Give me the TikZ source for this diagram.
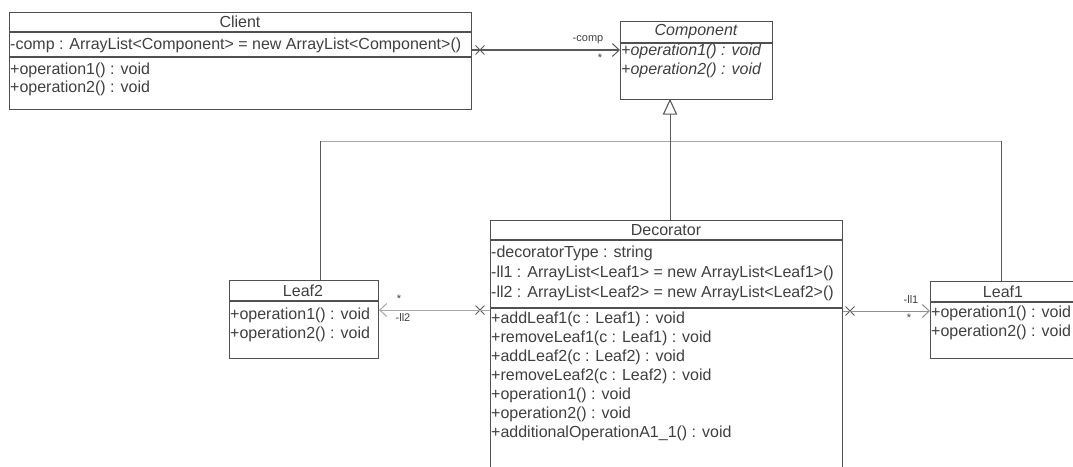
\documentclass[tikz,border=0pt]{standalone}
\usepackage{fontspec}
\setmainfont{Liberation Sans}
\usetikzlibrary{arrows.meta,calc,shapes.misc}
\definecolor{boxc}{HTML}{505050}
\definecolor{txtc}{HTML}{404040}
\definecolor{lightl}{HTML}{A8A8A8}
\definecolor{darkl}{HTML}{5A5A5A}
\begin{document}
\begin{tikzpicture}[x=1pt,y=-1pt,
  box/.style={draw=boxc, line width=1.1pt, anchor=north west, inner sep=0pt, fill=white},
  sepl/.style={draw=boxc, line width=1.1pt},
  cls/.style={anchor=center, inner sep=0pt, text=txtc, font=\fontsize{16}{19}\selectfont},
  mem/.style={anchor=west, inner sep=0pt, text=txtc, font=\fontsize{16}{19}\selectfont},
  lbl/.style={inner sep=0pt, text=txtc, font=\fontsize{11}{12}\selectfont},
  assoc/.style={draw=darkl, line width=0.9pt, -{Straight Barb[length=7pt,width=13pt,line width=1pt]}},
  xmark/.style={cross out, draw=darkl, line width=0.9pt, minimum size=8pt, inner sep=0pt},
  genh/.style={draw=lightl, line width=1pt},
  genv/.style={draw=darkl, line width=1pt}
]
\useasboundingbox (0,0) rectangle (1073,466);
\clip (0,0) rectangle (1073,466);
\fill[white] (0,0) rectangle (1073,466);

% Client
\node[box, minimum width=462pt, minimum height=97pt] (client) at (9,12) {};
\draw[sepl] (9,32) -- (471,32);
\draw[sepl] (9,57) -- (471,57);
\node[cls] (clientT) at (240,22) {Client};
\node[mem] (clientA) at (10,45) {-comp : ArrayList<Component> = new ArrayList<Component>()};
\node[mem] (clientO1) at (10,70) {+operation1() : void};
\node[mem] (clientO2) at (10,88) {+operation2() : void};

% Component
\node[box, minimum width=152pt, minimum height=78pt] (component) at (620,21) {};
\draw[sepl] (620,43) -- (772,43);
\node[cls, font=\fontsize{16}{19}\selectfont\itshape] (compT) at (696,32) {Component};
\node[mem, font=\fontsize{16}{19}\selectfont\itshape] (compO1) at (621,51) {+operation1() : void};
\node[mem, font=\fontsize{16}{19}\selectfont\itshape] (compO2) at (621,70) {+operation2() : void};

% Leaf2
\node[box, minimum width=149pt, minimum height=78pt] (leaf2) at (229,280) {};
\draw[sepl] (229,301) -- (378,301);
\node[cls] (leaf2T) at (303,291) {Leaf2};
\node[mem] (leaf2O1) at (230,315) {+operation1() : void};
\node[mem] (leaf2O2) at (230,334) {+operation2() : void};

% Leaf1
\node[box, minimum width=160pt, minimum height=77pt] (leaf1) at (930,281) {};
\draw[sepl] (930,302) -- (1090,302);
\node[cls] (leaf1T) at (1003,292) {Leaf1};
\node[mem] (leaf1O1) at (931,313) {+operation1() : void};
\node[mem] (leaf1O2) at (931,332) {+operation2() : void};

% Decorator
\node[box, minimum width=352pt, minimum height=280pt] (decorator) at (490,220) {};
\draw[sepl] (490,240) -- (842,240);
\draw[sepl] (490,308) -- (842,308);
\node[cls] (decT) at (666,230) {Decorator};
\node[mem] (decA1) at (491,253) {-decoratorType : string};
\node[mem] (decA2) at (491,273) {-ll1 : ArrayList<Leaf1> = new ArrayList<Leaf1>()};
\node[mem] (decA3) at (491,293) {-ll2 : ArrayList<Leaf2> = new ArrayList<Leaf2>()};
\node[mem] (decO1) at (491,319) {+addLeaf1(c : Leaf1) : void};
\node[mem] (decO2) at (491,338) {+removeLeaf1(c : Leaf1) : void};
\node[mem] (decO3) at (491,357) {+addLeaf2(c : Leaf2) : void};
\node[mem] (decO4) at (491,376) {+removeLeaf2(c : Leaf2) : void};
\node[mem] (decO5) at (491,395) {+operation1() : void};
\node[mem] (decO6) at (491,414) {+operation2() : void};
\node[mem] (decO7) at (491,433) {+additionalOperationA1\_1() : void};

% Generalization tree
\coordinate (junc) at (670,141);
\coordinate (jl) at (320,141);
\coordinate (jr) at (1001,141);
\draw[genh] (jl) -- (jr);
\draw[genv] (leaf2.north -| jl) -- (jl);
\draw[genv] (leaf1.north -| jr) -- (jr);
\draw[genv] (decorator.north -| junc) -- (component.south -| junc);
\draw[draw=darkl, line width=1.1pt, fill=white] (component.south -| junc) -- ++(-6.5,14) -- ++(13,0) -- cycle;

% Client -> Component
\node[xmark] (x1) at (480,50) {};
\draw[assoc, draw=darkl, line width=1.6pt] ($(client.north east)+(0,38)$) -- ($(component.north west)+(0,29)$);
\node[lbl] (l1a) at (588,40) {-comp};
\node[lbl] (l1b) at (600,58) {*};

% Decorator -> Leaf2
\node[xmark] (x2) at (480,310) {};
\draw[assoc, draw=lightl] ($(decorator.north west)+(0,90)$) -- ($(leaf2.north east)+(0,30)$);
\node[lbl] (l2a) at (399,299) {*};
\node[lbl] (l2b) at (403,318) {-ll2};

% Decorator -> Leaf1
\node[xmark] (x3) at (850,311) {};
\draw[assoc, draw=lightl!70!darkl] ($(decorator.north east)+(0,91)$) -- ($(leaf1.north west)+(0,30)$);
\node[lbl] (l3a) at (911,300) {-ll1};
\node[lbl] (l3b) at (909,318) {*};
\end{tikzpicture}
\end{document}
